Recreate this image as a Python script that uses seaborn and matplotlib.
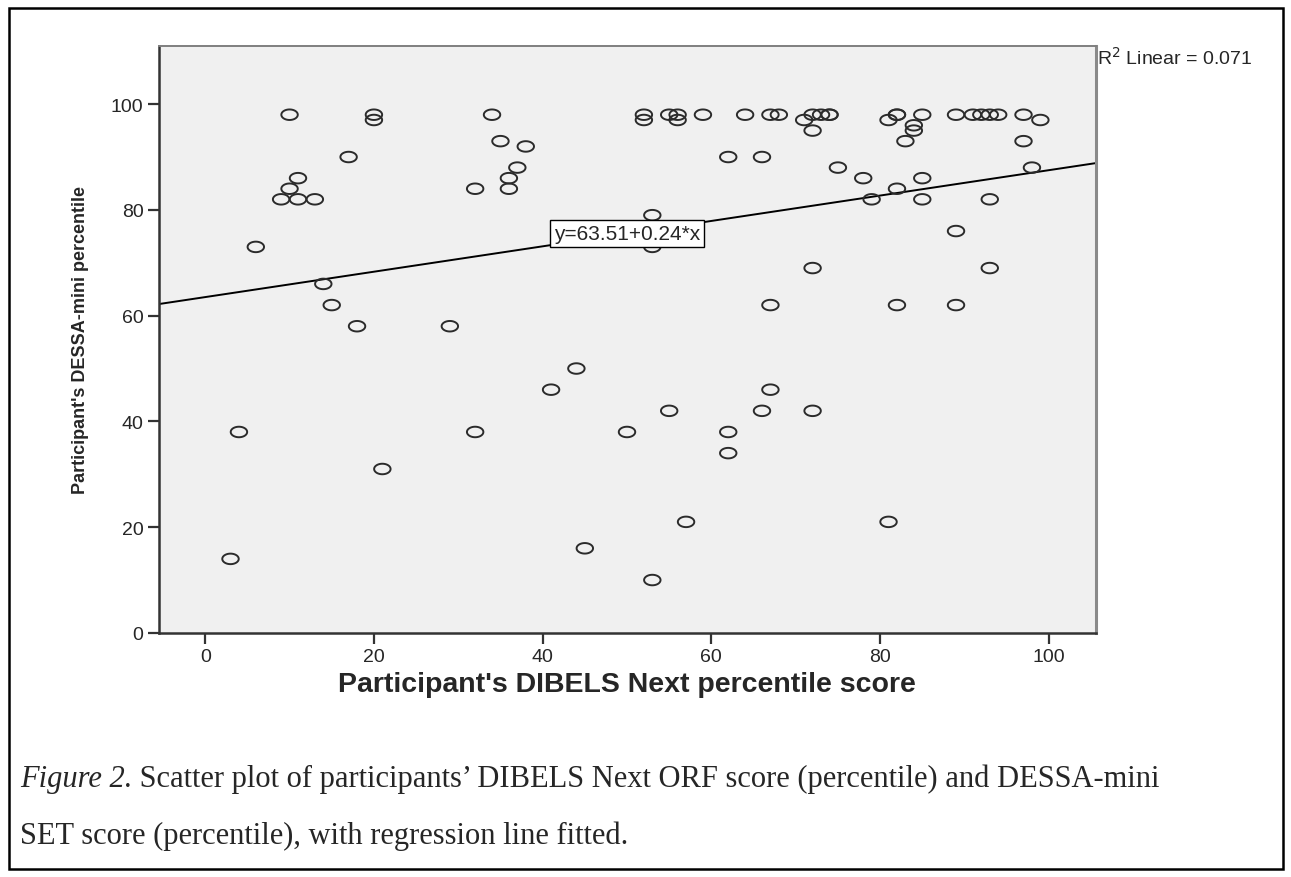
import numpy as np
import pandas as pd
import matplotlib
matplotlib.use("Agg")
import matplotlib.pyplot as plt
from matplotlib.path import Path
from matplotlib.patches import Rectangle
import seaborn as sns

# DIBELS Next percentile (x) and DESSA-mini percentile (y)
dibels = [3, 4, 6, 9, 10, 10, 11, 11, 13, 14, 15, 17, 18, 20, 20, 21, 29, 32, 32,
          34, 35, 36, 36, 37, 38, 41, 44, 45, 50, 52, 52, 53, 53, 53, 55, 55, 56, 56,
          57, 59, 62, 62, 62, 64, 66, 66, 67, 67, 67, 68, 71, 72, 72, 72, 72, 73, 74,
          74, 75, 78, 79, 81, 81, 82, 82, 82, 82, 83, 84, 84, 85, 85, 85, 89, 89, 89,
          91, 92, 93, 93, 93, 94, 97, 97, 98, 99]
dessa = [14, 38, 73, 82, 84, 98, 82, 86, 82, 66, 62, 90, 58, 98, 97, 31, 58, 84, 38,
         98, 93, 86, 84, 88, 92, 46, 50, 16, 38, 98, 97, 79, 73, 10, 98, 42, 98, 97,
         21, 98, 90, 38, 34, 98, 90, 42, 98, 62, 46, 98, 97, 98, 95, 69, 42, 98, 98,
         98, 88, 86, 82, 97, 21, 98, 98, 84, 62, 93, 96, 95, 98, 86, 82, 98, 76, 62,
         98, 98, 98, 82, 69, 98, 98, 93, 88, 97]

intercept = 63.51
slope = 0.24
r2 = 0.071
x_ticks = [0, 20, 40, 60, 80, 100]
y_ticks = [0, 20, 40, 60, 80, 100]

df = pd.DataFrame({"dibels": dibels, "dessa": dessa})

sns.set_style("white")
plt.rcParams["font.family"] = ["Liberation Sans", "DejaVu Sans"]
serif = ["Liberation Serif", "DejaVu Serif"]

fig = plt.figure(figsize=(12.91, 8.78), dpi=100)
ax = fig.add_axes([0.123, 0.278, 0.726, 0.6685])
ax.set_facecolor("#f0f0f0")

# SPSS draws its circles squashed, so use an elliptical marker
t = np.linspace(0, 2 * np.pi, 60)
ellipse = Path(np.column_stack([np.cos(t), 0.64 * np.sin(t)]), closed=True)

sns.scatterplot(data=df, x="dibels", y="dessa", ax=ax, marker=ellipse, s=140,
                color="#2b2b2b", linewidth=1.4, edgecolor="#2b2b2b", legend=False, zorder=3)
ax.collections[0].set_facecolor("none")

# fitted line
ax.axline((0, intercept), slope=slope, color="black", linewidth=1.4, zorder=2)
ax.text(50, 75.5, f"y={intercept:.2f}+{slope:.2f}*x", ha="center", va="center",
        fontsize=15, zorder=4,
        bbox=dict(boxstyle="square,pad=0.2", facecolor="white", edgecolor="black", linewidth=1))

ax.set_xlim(-5.5, 105.6)
ax.set_ylim(0, 111)
ax.set_xticks(x_ticks)
ax.set_yticks(y_ticks)
ax.tick_params(axis="both", direction="out", length=8, width=1.6, color="#333333",
               labelsize=14, pad=3, bottom=True, left=True)

for side in ["left", "bottom"]:
    ax.spines[side].set_color("#333333")
    ax.spines[side].set_linewidth(1.8)
ax.spines["top"].set_color("#7f7f7f")
ax.spines["top"].set_linewidth(1.4)
ax.spines["right"].set_color("#8a8a8a")
ax.spines["right"].set_linewidth(2.2)

ax.set_xlabel("Participant's DIBELS Next percentile score", fontsize=20.5,
              fontweight="bold", labelpad=4)
ax.set_ylabel("Participant's DESSA-mini percentile", fontsize=13, fontweight="bold",
              labelpad=16)

fig.text(1097 / 1291, 1 - 58 / 878, "R$^2$ Linear = 0.071", fontsize=14,
         ha="left", va="center")

# caption below the chart
cap = fig.text(20 / 1291, 1 - 794 / 878, "Figure 2.", fontsize=22, style="italic",
               family=serif, ha="left", va="bottom")
plt.annotate(" Scatter plot of participants\u2019 DIBELS Next ORF score (percentile) and DESSA-mini",
             xy=(1, 0), xycoords=cap, ha="left", va="bottom", fontsize=22,
             family=serif, annotation_clip=False)
fig.text(20 / 1291, 1 - 851 / 878, "SET score (percentile), with regression line fitted.",
         fontsize=22, family=serif, ha="left", va="bottom")

# outer frame around figure and caption
fig.add_artist(Rectangle((9 / 1291, 1 - 870 / 878), 1274 / 1291, 861 / 878,
                         transform=fig.transFigure, fill=False, edgecolor="black",
                         linewidth=1.8))

fig.savefig("out.png", dpi=100)
